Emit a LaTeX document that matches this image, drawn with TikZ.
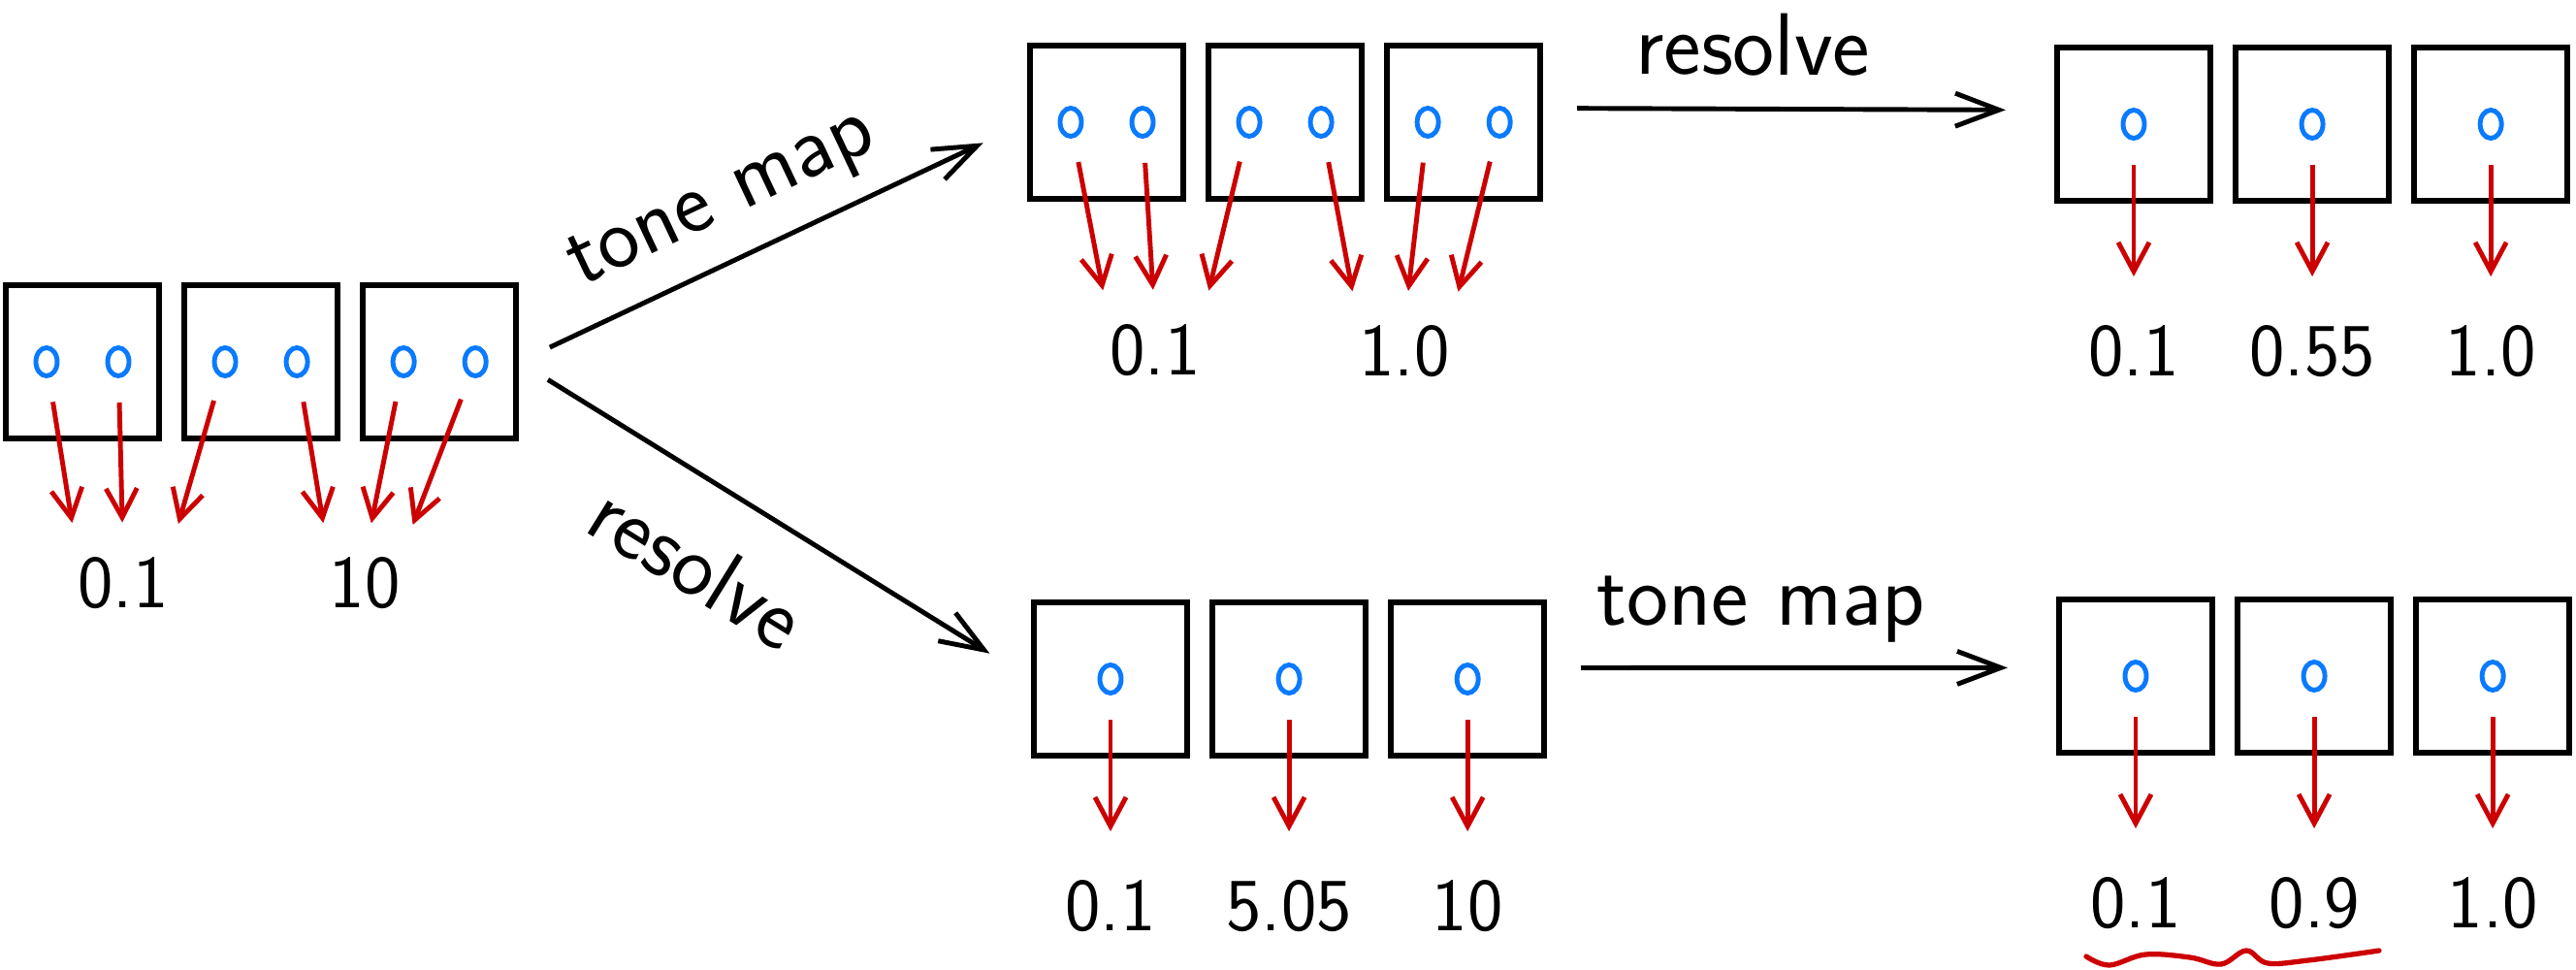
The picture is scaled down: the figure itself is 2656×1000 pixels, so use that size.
\documentclass[tikz,border=0pt]{standalone}
\usepackage{fontspec}
\usetikzlibrary{arrows.meta,positioning,shapes.geometric}

\definecolor{sampleblue}{RGB}{10,122,255}
\definecolor{splatred}{RGB}{204,0,0}

\begin{document}
\begin{tikzpicture}[x=0.01cm,y=-0.01cm,>={Straight Barb[length=4.5mm,width=3.4mm]},
        pixel/.style={draw,line width=1.7pt,minimum size=1.58cm,inner sep=0pt},
        sample/.style={ellipse,draw=sampleblue,line width=1.4pt,minimum width=0.22cm,minimum height=0.29cm,inner sep=0pt},
        value/.style={font=\sffamily\fontsize{22}{26}\selectfont,inner sep=0pt},
        op/.style={font=\sffamily\fontsize{26}{30}\selectfont,inner sep=2pt,sloped},
        splat/.style={-{Straight Barb[length=3mm,width=3.2mm]},draw=splatred,line width=1.4pt,shorten <=0.25cm,shorten >=0.35cm},
        pass/.style={->,line width=1.4pt,shorten <=0.35cm,shorten >=0.5cm}]
    \useasboundingbox (0,0) rectangle (2656,1000);
    \foreach \g/\x/\y in {a/85/373,b/1141/126,c/2200/128,d/1145/700,e/2202/697} {
        \node[pixel] (\g1) at (\x,\y) {};
        \node[pixel,right=0.2cm of \g1] (\g2) {};
        \node[pixel,right=0.2cm of \g2] (\g3) {};
    }
    \foreach \g in {a,b} \foreach \i in {1,2,3} {
        \node[sample,xshift=-0.37cm] (\g\i-l) at (\g\i) {};
        \node[sample,xshift=0.37cm] (\g\i-r) at (\g\i) {};
    }
    \foreach \g in {c,d,e} \foreach \i in {1,2,3}
        \node[sample] (\g\i-s) at (\g\i) {};

    \node[value] (a-lo) at (127,601) {0.1};
    \node[value] (a-hi) at (376,601) {10};
    \node[value] (b-lo) at (1191,361) {0.1};
    \node[value] (b-hi) at (1448,362) {1.0};
    \foreach \g/\p/\q/\r in {c/0.1/0.55/1.0,d/0.1/5.05/10,e/0.1/0.9/1.0} {
        \node[value,below=1.25cm of \g1] (\g1-v) {\p};
        \node[value,below=1.25cm of \g2] (\g2-v) {\q};
        \node[value,below=1.25cm of \g3] (\g3-v) {\r};
    }

    \foreach \g in {a,b} {
        \draw[splat] (\g1-l) -- (\g-lo.north west);
        \draw[splat] (\g1-r) -- (\g-lo.north);
        \draw[splat] (\g2-l) -- (\g-lo.north east);
        \draw[splat] (\g2-r) -- (\g-hi.north west);
        \draw[splat] (\g3-l) -- (\g-hi.north);
        \draw[splat] (\g3-r) -- (\g-hi.north east);
    }
    \foreach \g in {c,d,e} \foreach \i in {1,2,3}
        \draw[splat,shorten >=0.5cm] (\g\i-s) -- (\g\i-v);

    \draw[pass] (a3.east) -- (b1.west) node[op,above=1.5mm,pos=0.45] {tone map};
    \draw[pass] (a3.east) -- (d1.west) node[op,below=4mm,pos=0.43] {resolve};
    \draw[pass] (b3.10) -- (c1.170) node[op,above=2.5mm,pos=0.41] {resolve};
    \draw[pass] (d3.8) -- (e1.174) node[op,above=1.7mm,pos=0.42] {tone map};

    \draw[splatred,line width=1.5pt,line cap=round] plot[smooth,tension=0.6] coordinates {(2151,986) (2175,995) (2212,984) (2258,987) (2290,994) (2316,980) (2338,993) (2380,990) (2453,980)};
\end{tikzpicture}
\end{document}
